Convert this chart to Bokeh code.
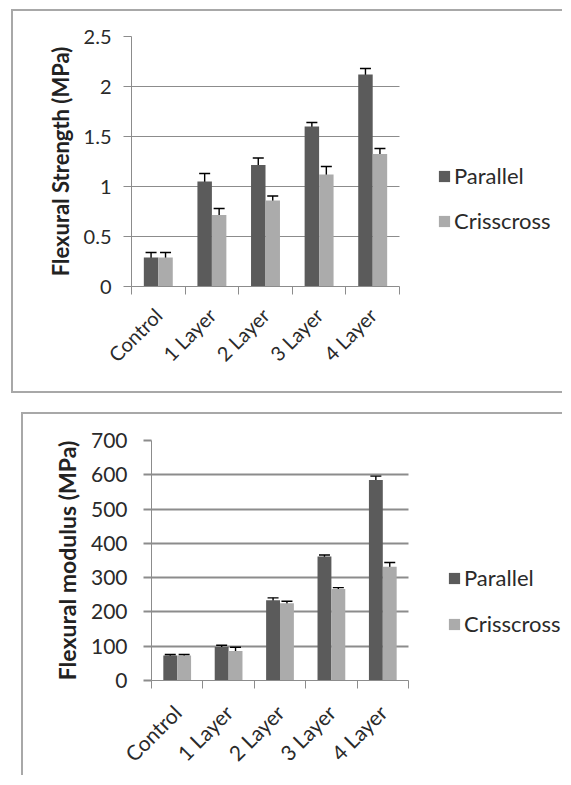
import math
import numpy as np
from bokeh.plotting import figure
from bokeh.models import (ColumnDataSource, Range1d, FixedTicker, Whisker, TeeHead,
                          Legend, LegendItem, Grid)
from bokeh.embed import file_html
from bokeh.resources import INLINE

# ---------------- data ----------------
categories = ["Control", "1 Layer", "2 Layer", "3 Layer", "4 Layer"]
series_names = ["Parallel", "Crisscross"]

strength_parallel = [0.29, 1.05, 1.215, 1.60, 2.12]
strength_parallel_err = [0.05, 0.08, 0.07, 0.04, 0.06]
strength_criss = [0.29, 0.715, 0.86, 1.12, 1.325]
strength_criss_err = [0.05, 0.065, 0.045, 0.08, 0.055]
strength_ticks = [0, 0.5, 1, 1.5, 2, 2.5]
strength_tick_labels = ["0", "0.5", "1", "1.5", "2", "2.5"]

modulus_parallel = [73, 98, 234, 362, 585]
modulus_parallel_err = [3, 5, 7, 4, 11]
modulus_criss = [73, 86, 225, 267, 332]
modulus_criss_err = [3, 11, 6, 4, 12]
modulus_ticks = [0, 100, 200, 300, 400, 500, 600, 700]
modulus_tick_labels = ["0", "100", "200", "300", "400", "500", "600", "700"]

DARK = "#5b5b5b"
LIGHT = "#ababab"
GRID = "#8c8c8c"
FONT = "Lato"
HAS_CROSS = "cross_bounds" in Grid.properties()


def make_chart(par, par_err, cri, cri_err, ticks, tick_labels, ymax, ytitle,
               width, height, mb_left, mb_top, mb_bottom, cat_px,
               tick_fs, title_fs, cat_fs, leg_fs, leg_loc, leg_spacing,
               grid_w, tick_standoff, title_standoff, cat_standoff, margin, styles):
    n = len(categories)
    centers = np.arange(n) + 0.5
    bw = 0.27
    mb_right = 2
    frame_w = width - mb_left - mb_right
    x_end = frame_w / cat_px
    p = figure(width=width, height=height, output_backend="svg", toolbar_location=None,
               x_range=Range1d(0, x_end), y_range=Range1d(0, ymax),
               min_border_left=mb_left, min_border_right=mb_right,
               min_border_top=mb_top, min_border_bottom=mb_bottom)
    p.outline_line_color = None
    p.background_fill_color = "white"
    p.border_fill_color = "white"

    src_p = ColumnDataSource(dict(x=centers - bw / 2, top=par,
                                  upper=np.array(par) + np.array(par_err),
                                  lower=np.array(par) - np.array(par_err)))
    src_c = ColumnDataSource(dict(x=centers + bw / 2, top=cri,
                                  upper=np.array(cri) + np.array(cri_err),
                                  lower=np.array(cri) - np.array(cri_err)))
    r1 = p.vbar(x="x", top="top", width=bw, source=src_p, fill_color=DARK, line_color=None)
    r2 = p.vbar(x="x", top="top", width=bw, source=src_c, fill_color=LIGHT, line_color=None)
    for s in (src_p, src_c):
        w = Whisker(base="x", upper="upper", lower="lower", source=s,
                    line_color="black", line_width=1.4,
                    upper_head=TeeHead(size=11, line_color="black", line_width=1.4),
                    lower_head=TeeHead(size=11, line_color="black", line_width=1.4))
        p.add_layout(w)

    # y axis
    p.yaxis.ticker = FixedTicker(ticks=ticks)
    p.yaxis.major_label_overrides = {t: l for t, l in zip(ticks, tick_labels)}
    p.yaxis.axis_line_color = GRID
    p.yaxis.major_tick_line_color = GRID
    p.yaxis.major_tick_line_width = grid_w
    p.yaxis.major_tick_out = 8
    p.yaxis.major_tick_in = 0
    p.yaxis.minor_tick_line_color = None
    p.yaxis.major_label_text_font = FONT
    p.yaxis.major_label_text_font_size = f"{tick_fs}px"
    p.yaxis.major_label_text_color = "#2a2a2a"
    p.yaxis.major_label_standoff = tick_standoff
    p.yaxis.axis_label = ytitle
    p.yaxis.axis_label_text_font = FONT
    p.yaxis.axis_label_text_font_style = "bold"
    p.yaxis.axis_label_text_font_size = f"{title_fs}px"
    p.yaxis.axis_label_text_color = "#222222"
    p.yaxis.axis_label_standoff = title_standoff

    # gridlines limited to the category area
    p.ygrid.ticker = FixedTicker(ticks=ticks)
    p.ygrid.grid_line_color = GRID
    p.ygrid.grid_line_width = grid_w
    if HAS_CROSS:
        p.ygrid.cross_bounds = (0, n)
    else:
        p.ygrid.grid_line_color = None
        p.yaxis.major_tick_in = int(round(n * cat_px))
    p.xgrid.grid_line_color = None

    # x axis
    p.xaxis.bounds = (0, n)
    p.xaxis.ticker = FixedTicker(ticks=[float(c) for c in centers],
                                 minor_ticks=[float(i) for i in range(n + 1)])
    p.xaxis.major_label_overrides = {float(c): lab for c, lab in zip(centers, categories)}
    p.xaxis.axis_line_color = GRID
    p.xaxis.major_tick_line_color = None
    p.xaxis.major_tick_out = 8
    p.xaxis.major_tick_in = 0
    p.xaxis.minor_tick_line_color = GRID
    p.xaxis.minor_tick_out = 8
    p.xaxis.minor_tick_in = 0
    p.xaxis.major_label_orientation = math.pi / 4
    p.xaxis.major_label_text_font = FONT
    p.xaxis.major_label_text_font_size = f"{cat_fs}px"
    p.xaxis.major_label_text_color = "#2a2a2a"
    p.xaxis.major_label_standoff = cat_standoff

    legend = Legend(items=[LegendItem(label=series_names[0], renderers=[r1]),
                           LegendItem(label=series_names[1], renderers=[r2])],
                    location=leg_loc, orientation="vertical",
                    glyph_width=14, glyph_height=14, label_height=26,
                    label_standoff=3, spacing=leg_spacing, padding=0, margin=0,
                    border_line_color=None, background_fill_alpha=0,
                    label_text_font=FONT, label_text_font_size=f"{leg_fs}px",
                    label_text_color="#2a2a2a")
    p.add_layout(legend)
    p.margin = margin
    p.styles = styles
    return p


BORDER = "2px solid #a8a8a8"

p1 = make_chart(strength_parallel, strength_parallel_err, strength_criss, strength_criss_err,
                strength_ticks, strength_tick_labels, 2.5, "Flexural Strength (MPa)",
                width=551, height=384, mb_left=118, mb_top=25, mb_bottom=109, cat_px=53.6,
                tick_fs=20, title_fs=22, cat_fs=20, leg_fs=22, leg_loc=(306, 52),
                leg_spacing=18, grid_w=1.2, tick_standoff=12, title_standoff=7,
                cat_standoff=17, margin=(9, 0, 0, 11),
                styles={"border-left": BORDER, "border-top": BORDER, "border-bottom": BORDER})

p2 = make_chart(modulus_parallel, modulus_parallel_err, modulus_criss, modulus_criss_err,
                modulus_ticks, modulus_tick_labels, 700, "Flexural modulus (MPa)",
                width=541, height=363, mb_left=128, mb_top=26, mb_bottom=94, cat_px=51.4,
                tick_fs=21, title_fs=23, cat_fs=21, leg_fs=22, leg_loc=(296, 43),
                leg_spacing=19, grid_w=2, tick_standoff=16, title_standoff=7,
                cat_standoff=20, margin=(19, 0, 0, 21),
                styles={"border-left": BORDER, "border-top": BORDER})

open("out.html", "w").write(file_html([p1, p2], INLINE))
